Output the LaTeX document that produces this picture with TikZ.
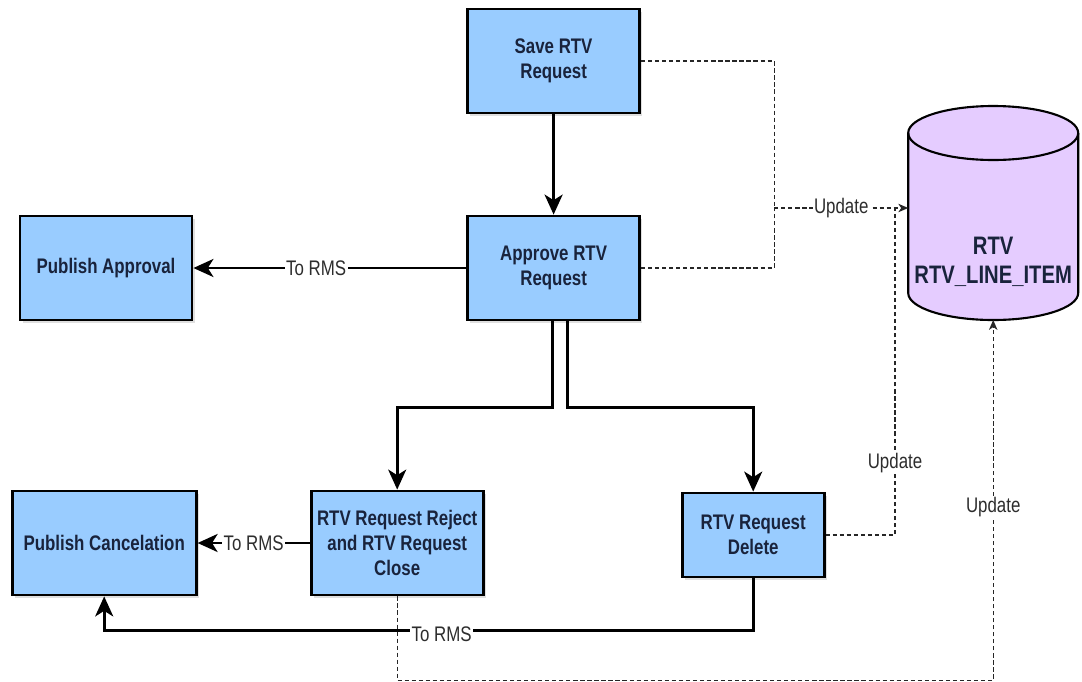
\documentclass[tikz,border=0pt]{standalone}
\usepackage{fontspec}
\setmainfont{Liberation Sans}[FakeStretch=0.8]
\usepackage{tikz}
\usetikzlibrary{arrows.meta,positioning,shadows,backgrounds}
\definecolor{boxblue}{RGB}{153,204,255}
\definecolor{dblilac}{RGB}{229,204,255}
\definecolor{boxtext}{RGB}{25,35,60}
\definecolor{labtext}{RGB}{45,45,45}

\begin{document}
\begin{tikzpicture}[->,>={Stealth[length=0.5cm,width=0.45cm,inset=0.14cm]},line width=2pt,node distance=5cm]
\tikzstyle{box}=[rectangle,draw=black,fill=boxblue,minimum width=4.3cm,minimum height=2.6cm,
                 align=center,inner sep=2pt,text=boxtext,
                 font=\fontsize{15}{18}\selectfont\bfseries,
                 drop shadow={shadow xshift=2pt,shadow yshift=-2pt,opacity=0.25}]
\tikzstyle{dbnode}=[rectangle,minimum width=4.25cm,minimum height=2.9cm,inner sep=0pt,outer sep=0pt,
                    align=center,text=boxtext,font=\fontsize{18}{21}\selectfont\bfseries]
\tikzstyle{tag}=[fill=white,inner sep=1pt,text=labtext,font=\fontsize{15}{18}\selectfont]
\tikzstyle{upd}=[line width=0.8pt,dash pattern=on 3pt off 2pt,draw=black!85,
                 >={Stealth[length=7pt,width=6pt,inset=2pt]}]

\useasboundingbox (0,0) rectangle (27.05,-17.025);

\node [box] at (13.84,-1.525) (save) {Save RTV\\Request};
\node [box] [node distance=5.175cm,below of=save] (approve) {Approve RTV\\Request};
\node [box] [node distance=11.19cm,left of=approve] (pubappr) {Publish Approval};
\node [box] [node distance=6.875cm,below of=approve,xshift=-3.91cm] (reject) {RTV Request Reject\\and RTV Request\\Close};
\node [box,minimum width=3.55cm,minimum height=2.1cm] [node distance=6.675cm,below of=approve,xshift=4.99cm] (delete) {RTV Request\\Delete};
\node [box,minimum width=4.6cm] [node distance=7.325cm,left of=reject] (pubcancel) {Publish Cancelation};
\node [dbnode] [node distance=10.99cm,right of=approve,yshift=0.15cm] (db) {RTV\\RTV\_LINE\_ITEM};

% database drum
\begin{scope}[on background layer]
\draw[line width=1.5pt,fill=dblilac,-] ([yshift=0.675cm]db.south west) -- ++(0,4.0)
      arc[start angle=180,end angle=0,x radius=2.125cm,y radius=0.675cm] -- ++(0,-4.0)
      arc[start angle=0,end angle=-180,x radius=2.125cm,y radius=0.675cm] -- cycle;
\draw[line width=1.5pt,-] ([yshift=4.675cm]db.south west)
      arc[start angle=180,end angle=360,x radius=2.125cm,y radius=0.675cm];
\end{scope}

\path
    (save) edge (approve)
    (approve) edge node[tag,pos=0.55] {To RMS} (pubappr)
    (reject) edge node[tag] {To RMS} (pubcancel);

\draw ([xshift=-1pt]approve.south) -- ++(0,-2.15) -| (reject.north);
\draw ([xshift=0.34cm]approve.south) -- ++(0,-2.15) -| (delete.north);

\coordinate [below=1.3cm of delete.south] (dturn);
\draw (delete.south) -- (dturn) -- node[tag,pos=0.48,yshift=-3pt] {To RMS} (dturn -| pubcancel.south) -- (pubcancel.south);

% updates to the tables
\coordinate [above=1.35cm of db.west] (dbin);
\coordinate [right=3.33cm of approve.east] (jx);
\coordinate (jn) at (jx |- dbin);
\coordinate [left=0.33cm of dbin] (jd);
\coordinate [below=2.1cm of reject.south] (rturn);

\draw[upd,-] (save.east) -| (jn);
\draw[upd,-] (approve.east) -| (jn);
\draw[upd] (jn) -- node[tag] {Update} (dbin);
\draw[upd,-] (delete.east) -| node[tag,pos=0.61] {Update} (jd);
\draw[upd] (reject.south) -- (rturn) -| node[tag,pos=0.74] {Update} (db.south);

\end{tikzpicture}
\end{document}
